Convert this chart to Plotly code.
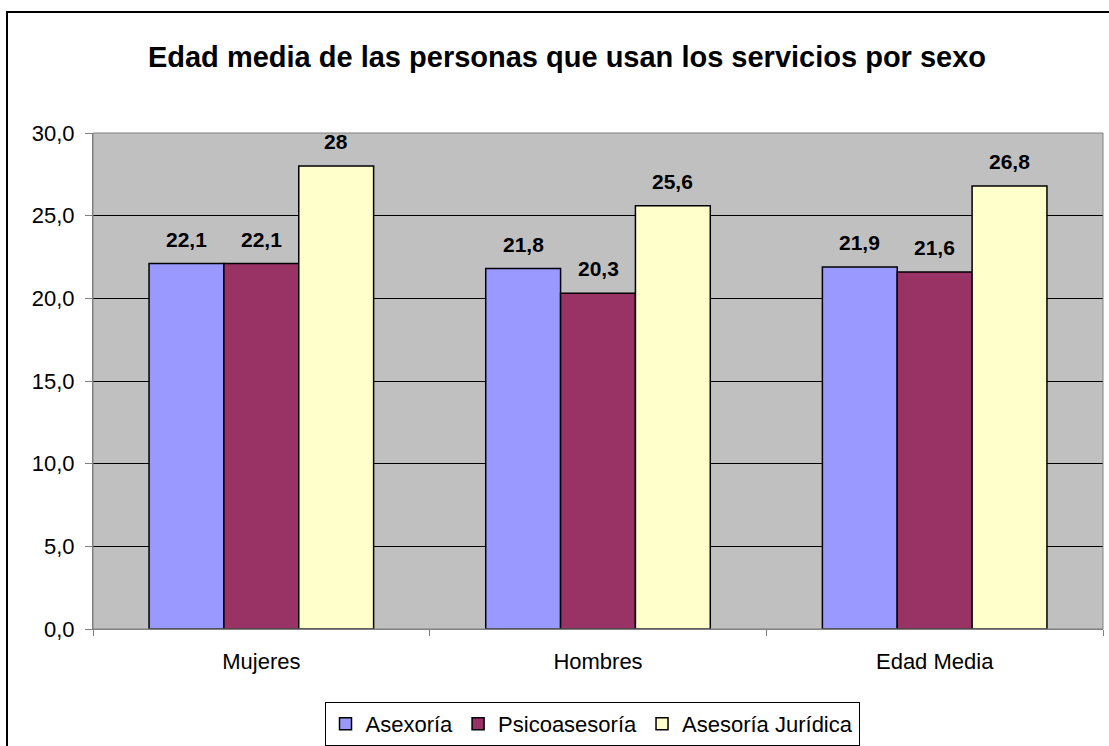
import plotly.graph_objects as go

categories = ["Mujeres", "Hombres", "Edad Media"]
series_names = ["Asexoría", "Psicoasesoría", "Asesoría Jurídica"]
asexoria = [22.1, 21.8, 21.9]
psicoasesoria = [22.1, 20.3, 21.6]
juridica = [28, 25.6, 26.8]
label_asexoria = ["22,1", "21,8", "21,9"]
label_psico = ["22,1", "20,3", "21,6"]
label_juridica = ["28", "25,6", "26,8"]
y_ticks = [0, 5, 10, 15, 20, 25, 30]

colors = ["#9999FF", "#993366", "#FFFFCC"]
series = [asexoria, psicoasesoria, juridica]
labels = [label_asexoria, label_psico, label_juridica]

FONT = "Liberation Sans, Arial, sans-serif"
W, H = 1109, 746
ml, mr, mt, mb = 93, 6, 133, 117
pw = W - ml - mr
ph = H - mt - mb

fig = go.Figure()
for name, vals, col in zip(series_names, series, colors):
    fig.add_trace(go.Bar(
        x=categories, y=vals, name=name,
        marker=dict(color=col, line=dict(color="black", width=1.5)),
    ))

bar_w = pw / len(categories) * (1 - 0.333) / len(series)
annotations = []
for i, (vals, labs) in enumerate(zip(series, labels)):
    for c, v, t in zip(categories, vals, labs):
        annotations.append(dict(
            x=c, y=v, text="<b>%s</b>" % t, showarrow=False,
            xshift=(i - 1) * bar_w, yshift=11, yanchor="bottom",
            font=dict(family=FONT, size=21, color="black"),
        ))

fig.update_layout(
    width=W, height=H, autosize=False,
    margin=dict(l=ml, r=mr, t=mt, b=mb, autoexpand=False),
    paper_bgcolor="white", plot_bgcolor="#C0C0C0",
    separators=",.",
    barmode="group", bargap=0.333, bargroupgap=0,
    font=dict(family=FONT, size=22, color="black"),
    title=dict(text="<b>Edad media de las personas que usan los servicios por sexo</b>",
               x=(567 - ml) / pw, xref="paper", xanchor="center",
               y=1 - 57 / H, yanchor="middle",
               font=dict(size=29, family=FONT)),
    showlegend=True,
    legend=dict(orientation="h", x=(592 - ml) / pw, xanchor="center",
                yref="container", y=1 - 702 / H, yanchor="top",
                bordercolor="black", borderwidth=1, bgcolor="white",
                font=dict(size=22), traceorder="normal",
                itemwidth=30),
    annotations=annotations,
    xaxis=dict(showline=True, linecolor="#808080", linewidth=1,
               ticks="outside", tickson="boundaries", ticklen=6, tickcolor="#808080",
               showgrid=False, tickfont=dict(size=22), ticklabelstandoff=13,
               automargin=False),
    yaxis=dict(range=[0, 30], tickvals=y_ticks, tickformat=".1f",
               showline=True, linecolor="#808080", linewidth=1,
               ticks="outside", ticklen=7, tickcolor="#808080",
               showgrid=True, gridcolor="black", gridwidth=1,
               zeroline=False, tickfont=dict(size=22), ticklabelstandoff=6,
               automargin=False),
    shapes=[
        dict(type="rect", xref="paper", yref="paper",
             x0=(7 - ml) / pw, x1=(W + 10 - ml) / pw,
             y0=1 - (H + 10 - mt) / ph, y1=1 - (12 - mt) / ph,
             line=dict(color="black", width=2), fillcolor="rgba(0,0,0,0)", layer="below"),
        dict(type="rect", xref="paper", yref="paper", x0=0, x1=1, y0=0, y1=1,
             line=dict(color="#808080", width=1), fillcolor="rgba(0,0,0,0)", layer="above"),
    ],
)

fig.write_html("out.html", config={"displayModeBar": False},
               post_script="document.body.style.margin='0';document.body.style.overflow='hidden';")
